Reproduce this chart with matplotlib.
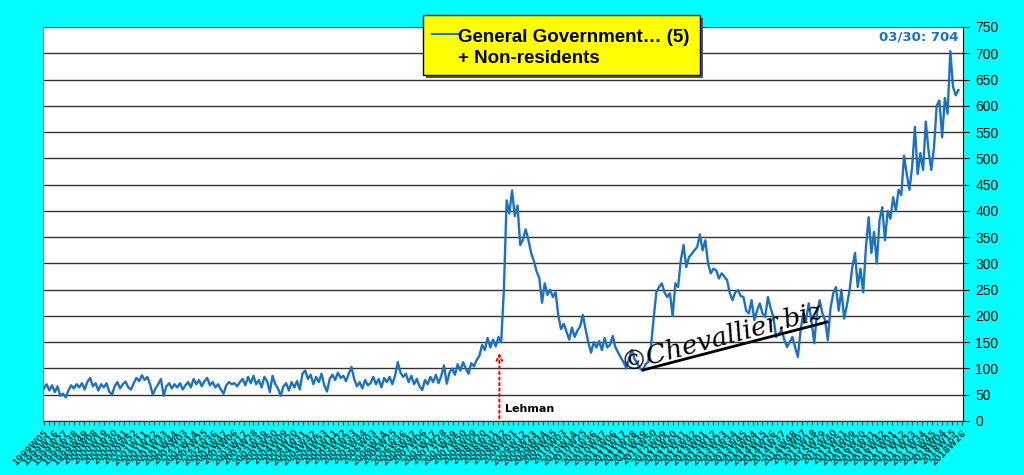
import numpy as np
import pandas as pd
import matplotlib
matplotlib.use('Agg')
import matplotlib.pyplot as plt
from matplotlib.patches import Rectangle
from matplotlib.lines import Line2D

# weekly axis 1999W05 .. 2018W26, one label every 11 weeks
weeks = pd.date_range('1999-02-05', periods=1013, freq='7D')
week_labels = []
for d in weeks:
    iso = d.isocalendar()
    week_labels.append(f"{iso.year}W{iso.week:02d}")

# values, one every 3 weeks from 1999W05
step = 3
values = [
    62, 70, 58, 68, 55, 66, 48, 52, 45, 58, 68, 62, 70, 64, 72, 60, 75, 82, 66, 72,
    58, 70, 64, 72, 56, 50, 66, 74, 62, 70, 75, 64, 60, 72, 82, 76, 87, 78, 84, 70,
    50, 62, 70, 80, 48, 66, 72, 62, 70, 64, 72, 60, 68, 74, 64, 80, 70, 78, 66, 76,
    82, 68, 74, 64, 70, 60, 52, 68, 74, 70, 72, 66, 74, 80, 68, 84, 72, 86, 70, 78,
    64, 84, 76, 55, 86, 70, 62, 48, 66, 72, 58, 74, 64, 76, 60, 90, 96, 80, 88, 70,
    84, 74, 90, 68, 56, 80, 88, 78, 92, 82, 86, 76, 90, 103, 80, 66, 74, 62, 78, 68,
    72, 84, 70, 80, 64, 82, 74, 84, 70, 86, 112, 92, 84, 90, 74, 86, 70, 80, 66, 59,
    78, 70, 84, 74, 88, 72, 86, 106, 71, 92, 100, 88, 108, 96, 112, 100, 90, 110, 104, 116,
    124, 145, 135, 158, 140, 155, 142, 160, 150, 250, 420, 395, 439, 390, 410, 335, 345, 365, 345, 320,
    305, 285, 272, 225, 262, 240, 250, 236, 245, 200, 175, 185, 170, 155, 178, 160, 172, 180, 202, 175,
    150, 130, 150, 140, 152, 135, 158, 140, 145, 162, 140, 130, 120, 112, 100, 120, 135, 118, 110, 100,
    96, 108, 112, 140, 195, 245, 255, 262, 245, 236, 243, 200, 262, 255, 306, 335, 293, 312, 318, 325,
    331, 355, 325, 344, 300, 281, 290, 287, 271, 281, 275, 268, 243, 230, 245, 249, 238, 236, 210, 205,
    230, 192, 210, 224, 205, 198, 236, 215, 198, 160, 165, 173, 155, 141, 150, 160, 140, 122, 173, 205,
    192, 224, 190, 148, 205, 230, 205, 192, 154, 215, 243, 255, 210, 250, 195, 220, 249, 293, 320, 255,
    290, 245, 330, 388, 320, 360, 300, 382, 407, 344, 400, 385, 426, 400, 440, 430, 505, 470, 440, 485,
    560, 470, 510, 478, 570, 515, 478, 520, 600, 610, 540, 615, 585, 704, 636, 620, 630,
]
x = np.arange(len(values)) * step

fig = plt.figure(figsize=(10.24, 4.75), dpi=100, facecolor='#00FFFF')
ax = fig.add_axes([43/1024, 1-421/475, 920/1024, 394/475])
ax.set_facecolor('white')

ax.plot(x, values, color='#1B72C4', lw=1.7, zorder=3)

ax.set_ylim(0, 750)
ax.set_yticks(range(0, 751, 50))
ax.yaxis.tick_right()
ax.grid(axis='y', color='#333333', lw=1)
ax.set_axisbelow(True)

ax.set_xlim(-1, 1013)
ax.set_xticks(range(0, 1013, 11))
ax.set_xticklabels(week_labels[::11], rotation=45, ha='right', rotation_mode='anchor',
                   fontsize=6.3, fontweight='bold', color='#004040')
ax.set_xticks(np.arange(5.5, 1013, 11), minor=True)
ax.tick_params(axis='x', which='both', length=3, direction='out', color='#333333', pad=2)
ax.tick_params(axis='y', length=4, direction='out', labelsize=10, pad=5)
for lab in ax.get_yticklabels():
    lab.set_family('Liberation Sans')

ax.spines['top'].set_visible(False)
ax.spines['left'].set_color('#888888')
ax.spines['bottom'].set_color('#333333')
ax.spines['right'].set_color('black')

# last value annotation
ax.text(0.995, 0.975, '03/30: 704', transform=ax.transAxes, ha='right', va='center',
        color='#1B72C4', fontsize=9.5, fontweight='bold')

# Lehman marker
ax.annotate('', xy=(502, 135), xytext=(502, 0),
            arrowprops=dict(arrowstyle='->', color='red', linestyle=':', lw=1.5))
ax.text(508, 23, 'Lehman', fontsize=8, fontweight='bold', va='center', color='black')

# watermark
fig.text(722/1024, 1-337/475, '©Chevallier.biz', rotation=15, ha='center', va='center',
         fontsize=19, fontstyle='italic', family='DejaVu Serif',
         color='black', zorder=5)
fig.add_artist(Line2D([643/1024, 827/1024], [1-370/475, 1-322/475], color='black', lw=2, zorder=5))

# legend box
fig.add_artist(Rectangle((426/1024, 1-78/475), 277/1024, 60/475, facecolor='#555555',
                         edgecolor='none', zorder=6))
fig.add_artist(Rectangle((423/1024, 1-75/475), 277/1024, 60/475, facecolor='#FFFF00',
                         edgecolor='black', lw=1, zorder=7))
fig.add_artist(Line2D([432/1024, 458/1024], [1-34/475, 1-34/475], color='#1B72C4', lw=1.5, zorder=8))
fig.text(458/1024, 1-42/475, 'General Government… (5)', fontsize=13.5, fontweight='bold',
         family='Liberation Sans', va='baseline', zorder=8)
fig.text(458/1024, 1-63/475, '+ Non-residents', fontsize=13.5, fontweight='bold',
         family='Liberation Sans', va='baseline', zorder=8)

fig.savefig('out.png', dpi=100, facecolor=fig.get_facecolor())
